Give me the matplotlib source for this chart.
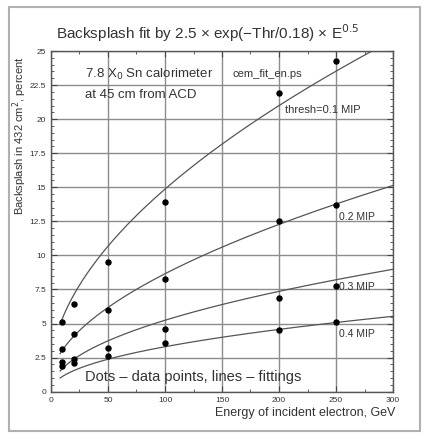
import numpy as np
import matplotlib
matplotlib.use("Agg")
import matplotlib.pyplot as plt
from matplotlib.patches import Rectangle
from matplotlib.ticker import MultipleLocator

plt.rcParams['font.family'] = ['Liberation Sans', 'DejaVu Sans']

# ---- data ----
energy = [10, 20, 50, 100, 200, 250]
bs_01 = [5.1, 6.4, 9.5, 13.9, 21.9, 24.3]
bs_02 = [3.1, 4.2, 6.0, 8.3, 12.5, 13.7]
bs_03 = [2.2, 2.4, 3.2, 4.6, 6.9, 7.75]
bs_04 = [1.9, 2.1, 2.6, 3.6, 4.5, 5.1]

# fitted curves: c + a * E**b (parameters)
fit_c = [1.66, 0.85, 0.0, 0.0]
fit_a = [1.049, 0.62, 0.549, 0.379]
fit_b = [0.55, 0.55, 0.49, 0.47]
curve_labels = ["thresh=0.1 MIP", "0.2 MIP", "0.3 MIP", "0.4 MIP"]

xticks = [0, 50, 100, 150, 200, 250, 300]
yticks = [0, 2.5, 5, 7.5, 10, 12.5, 15, 17.5, 20, 22.5, 25]
ytick_labels = ["0", "2.5", "5", "7.5", "10", "12.5", "15", "17.5", "20", "22.5", "25"]

W, H = 427, 433
fig = plt.figure(figsize=(W / 100, H / 100), dpi=100)

# outer frame
fig.patches.append(Rectangle((9 / W, 1 - 431 / H), (420 - 9) / W, (431 - 7) / H,
                             transform=fig.transFigure, fill=False,
                             edgecolor="#b0b0b0", linewidth=1.5))

ax = fig.add_axes([51 / W, 1 - 391.7 / H, (393 - 51) / W, (391.7 - 51) / H])
ax.set_xlim(0, 300)
ax.set_ylim(0, 25)

ax.set_xticks(xticks)
ax.set_xticklabels([str(t) for t in xticks])
ax.set_yticks(yticks)
ax.set_yticklabels(ytick_labels)
ax.xaxis.set_minor_locator(MultipleLocator(25))
ax.yaxis.set_minor_locator(MultipleLocator(0.5))
ax.tick_params(which="both", direction="in", top=True, right=True,
               labelsize=6, colors="#444444", labelcolor="#333333")
ax.tick_params(which="major", length=4, width=0.8)
ax.tick_params(which="minor", length=2, width=0.6)
ax.grid(True, which="major", color="#8c8c8c", linewidth=1.0)
ax.set_axisbelow(True)
for s in ax.spines.values():
    s.set_color("#555555")
    s.set_linewidth(1.0)

series = [bs_01, bs_02, bs_03, bs_04]
E = np.linspace(8, 300, 300)
for vals, c, a, b in zip(series, fit_c, fit_a, fit_b):
    ax.plot(E, c + a * E ** b, color="#555555", linewidth=0.9)
    ax.plot(energy, vals, "o", color="black", markersize=3.6, zorder=5)

# labels of curves
lab_pos = [(205, 20.7), (253, 12.8), (253, 7.7), (253, 4.2)]
lab_size = [8, 7.5, 7.5, 7.5]
for (lx, ly), txt, fs in zip(lab_pos, curve_labels, lab_size):
    ax.text(lx, ly, txt, fontsize=fs, color="#333333", va="center", ha="left")

ax.text(30, 23.3, "7.8 X$_0$ Sn calorimeter", fontsize=9.5, color="#333333", va="center")
ax.text(30, 21.8, "at 45 cm from ACD", fontsize=9.5, color="#333333", va="center")
ax.text(159, 23.3, "cem_fit_en.ps", fontsize=8, color="#333333", va="center")
ax.text(30, 1.05, "Dots \u2013 data points, lines \u2013 fittings", fontsize=10.5,
        color="#333333", va="center")

fig.text(208 / W, 1 - 33 / H, "Backsplash fit by 2.5 \u00d7 exp(\u2212Thr/0.18) \u00d7 E$^{0.5}$",
         fontsize=11, color="#333333", ha="center", va="center")
fig.text(20 / W, 1 - 136 / H, "Backsplash in 432 cm$^2$, percent", rotation=90,
         fontsize=8, color="#333333", ha="center", va="center")
fig.text(395 / W, 1 - 413 / H, "Energy of incident electron, GeV", fontsize=9,
         color="#333333", ha="right", va="center")

fig.savefig("out.png", dpi=100)
